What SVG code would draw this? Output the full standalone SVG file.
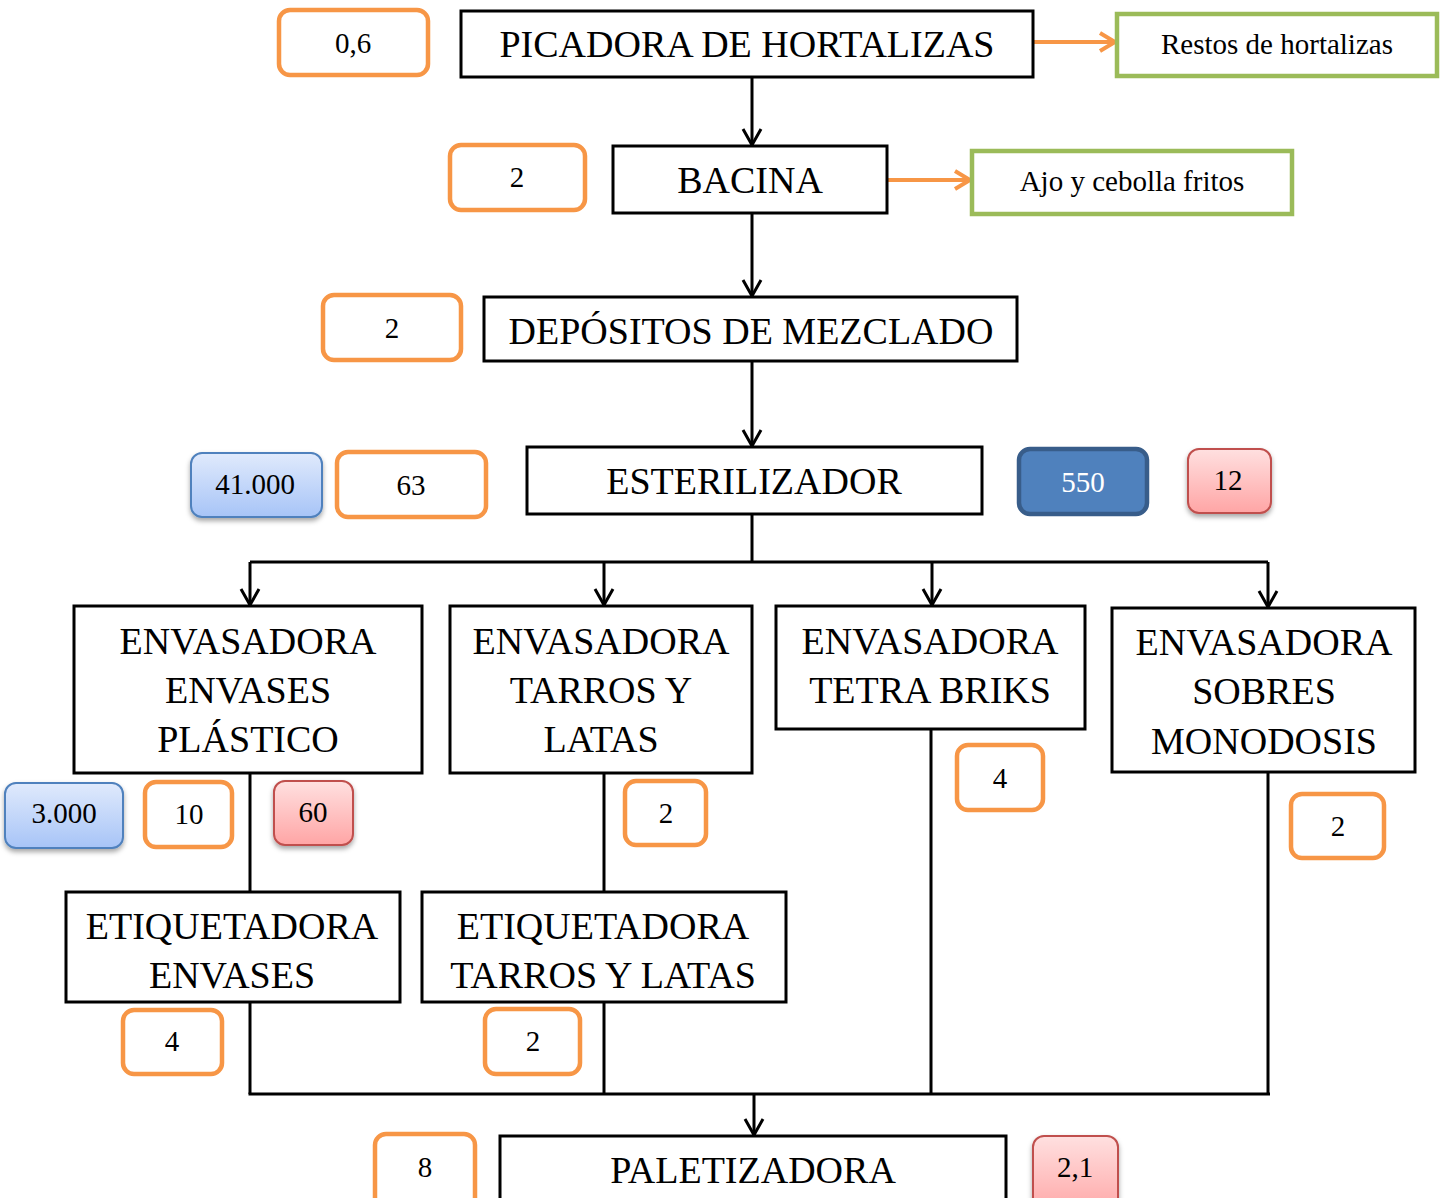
<svg xmlns="http://www.w3.org/2000/svg" width="1440" height="1198" viewBox="0 0 1440 1198">
  <style>
    text { font-family: "Liberation Serif", "Times New Roman", serif; text-anchor: middle; fill: #000; }
    .main { font-size: 38px; }
    .num { font-size: 29px; }
    .proc { fill: #fff; stroke: #000; stroke-width: 3; }
    .ora { fill: #fff; stroke: #F79646; stroke-width: 4.5; }
    .grn { fill: #fff; stroke: #9BBB59; stroke-width: 4.5; }
    .blu { fill: url(#gBlue); stroke: #4F81BD; stroke-width: 2; filter: url(#shadow); }
    .red { fill: url(#gRed); stroke: #C0504D; stroke-width: 2; filter: url(#shadow); }
    .dark { fill: #4F81BD; stroke: #385D8A; stroke-width: 4.5; }
    .wire { fill: none; stroke: #000; stroke-width: 3; }
    .flow { fill: none; stroke: #000; stroke-width: 3; marker-end: url(#arrowK); }
    .side { fill: none; stroke: #F79646; stroke-width: 4; marker-end: url(#arrowO); }
  </style>
  <defs>
    <linearGradient id="gBlue" x1="0" y1="0" x2="0" y2="1">
      <stop offset="0" stop-color="#E0EAFC"/>
      <stop offset="1" stop-color="#A7C4F7"/>
    </linearGradient>
    <linearGradient id="gRed" x1="0" y1="0" x2="0" y2="1">
      <stop offset="0" stop-color="#FFE0E0"/>
      <stop offset="1" stop-color="#FFA5A5"/>
    </linearGradient>
    <filter id="shadow" x="-20%" y="-20%" width="140%" height="150%">
      <feDropShadow dx="0" dy="3" stdDeviation="2.5" flood-color="#000" flood-opacity="0.35"/>
    </filter>
    <marker id="arrowK" viewBox="0 0 22 22" refX="20" refY="11" markerWidth="22" markerHeight="22" markerUnits="userSpaceOnUse" orient="auto">
      <path d="M4 2 L20 11 L4 20" fill="none" stroke="#000" stroke-width="3"/>
    </marker>
    <marker id="arrowO" viewBox="0 0 24 24" refX="21" refY="12" markerWidth="24" markerHeight="24" markerUnits="userSpaceOnUse" orient="auto">
      <path d="M6 3 L21 12 L6 21" fill="none" stroke="#F79646" stroke-width="4"/>
    </marker>
  </defs>

  <!-- connectors -->
  <g id="connectors">
    <line class="flow" x1="752" y1="77" x2="752" y2="145"/>
    <line class="flow" x1="752" y1="213" x2="752" y2="296"/>
    <line class="flow" x1="752" y1="361" x2="752" y2="446"/>
    <polyline class="wire" points="752,514 752,562"/>
    <line class="wire" x1="250" y1="562" x2="1268" y2="562"/>
    <line class="flow" x1="250" y1="562" x2="250" y2="605"/>
    <line class="flow" x1="604" y1="562" x2="604" y2="605"/>
    <line class="flow" x1="932" y1="562" x2="932" y2="605"/>
    <line class="flow" x1="1268" y1="562" x2="1268" y2="607"/>
    <line class="wire" x1="250" y1="773" x2="250" y2="892"/>
    <line class="wire" x1="604" y1="773" x2="604" y2="892"/>
    <line class="wire" x1="250" y1="1002" x2="250" y2="1094"/>
    <line class="wire" x1="604" y1="1002" x2="604" y2="1094"/>
    <line class="wire" x1="931" y1="729" x2="931" y2="1094"/>
    <line class="wire" x1="1268" y1="772" x2="1268" y2="1094"/>
    <line class="wire" x1="248.5" y1="1094" x2="1270" y2="1094"/>
    <line class="flow" x1="754" y1="1094" x2="754" y2="1135"/>
    <line class="side" x1="1033" y1="42" x2="1115" y2="42"/>
    <line class="side" x1="887" y1="180" x2="970" y2="180"/>
  </g>

  <!-- process steps -->
  <g id="picadora">
    <rect class="proc" x="461" y="11" width="572" height="66"/>
    <text class="main" x="747" y="57">PICADORA DE HORTALIZAS</text>
  </g>
  <g id="bacina">
    <rect class="proc" x="613" y="146" width="274" height="67"/>
    <text class="main" x="750" y="193">BACINA</text>
  </g>
  <g id="depositos">
    <rect class="proc" x="484" y="297" width="533" height="64"/>
    <text class="main" x="751" y="344">DEPÓSITOS DE MEZCLADO</text>
  </g>
  <g id="esterilizador">
    <rect class="proc" x="527" y="447" width="455" height="67"/>
    <text class="main" x="754" y="494">ESTERILIZADOR</text>
  </g>
  <g id="env-plastico">
    <rect class="proc" x="74" y="606" width="348" height="167"/>
    <text class="main" x="248" y="654">ENVASADORA</text>
    <text class="main" x="248" y="703">ENVASES</text>
    <text class="main" x="248" y="752">PLÁSTICO</text>
  </g>
  <g id="env-tarros">
    <rect class="proc" x="450" y="606" width="302" height="167"/>
    <text class="main" x="601" y="654">ENVASADORA</text>
    <text class="main" x="601" y="703">TARROS Y</text>
    <text class="main" x="601" y="752">LATAS</text>
  </g>
  <g id="env-tetra">
    <rect class="proc" x="776" y="606" width="309" height="123"/>
    <text class="main" x="930" y="654">ENVASADORA</text>
    <text class="main" x="930" y="703">TETRA BRIKS</text>
  </g>
  <g id="env-sobres">
    <rect class="proc" x="1112" y="608" width="303" height="164"/>
    <text class="main" x="1264" y="655">ENVASADORA</text>
    <text class="main" x="1264" y="704">SOBRES</text>
    <text class="main" x="1264" y="754">MONODOSIS</text>
  </g>
  <g id="etiq-envases">
    <rect class="proc" x="66" y="892" width="334" height="110"/>
    <text class="main" x="232" y="939">ETIQUETADORA</text>
    <text class="main" x="232" y="988">ENVASES</text>
  </g>
  <g id="etiq-tarros">
    <rect class="proc" x="422" y="892" width="364" height="110"/>
    <text class="main" x="603" y="939">ETIQUETADORA</text>
    <text class="main" x="603" y="988">TARROS Y LATAS</text>
  </g>
  <g id="paletizadora">
    <rect class="proc" x="500" y="1136" width="506" height="80"/>
    <text class="main" x="753" y="1183">PALETIZADORA</text>
  </g>

  <!-- by-products -->
  <g id="restos">
    <rect class="grn" x="1117" y="14" width="320" height="62"/>
    <text class="num" x="1277" y="54">Restos de hortalizas</text>
  </g>
  <g id="ajo">
    <rect class="grn" x="972" y="151" width="320" height="63"/>
    <text class="num" x="1132" y="191">Ajo y cebolla fritos</text>
  </g>

  <!-- figures per step -->
  <g id="n-picadora"><rect class="ora" x="279" y="10" width="149" height="65" rx="11"/><text class="num" x="353" y="53">0,6</text></g>
  <g id="n-bacina"><rect class="ora" x="450" y="145" width="135" height="65" rx="11"/><text class="num" x="517" y="187">2</text></g>
  <g id="n-depositos"><rect class="ora" x="323" y="295" width="138" height="65" rx="11"/><text class="num" x="392" y="338">2</text></g>
  <g id="n-ester-blue"><rect class="blu" x="191" y="453" width="131" height="64" rx="11"/><text class="num" x="255" y="494">41.000</text></g>
  <g id="n-ester-orange"><rect class="ora" x="337" y="452" width="149" height="65" rx="11"/><text class="num" x="411" y="495">63</text></g>
  <g id="n-ester-dark"><rect class="dark" x="1019" y="449" width="128" height="65" rx="11"/><text class="num" x="1083" y="492" style="fill:#fff">550</text></g>
  <g id="n-ester-red"><rect class="red" x="1188" y="449" width="83" height="64" rx="11"/><text class="num" x="1228" y="490">12</text></g>
  <g id="n-plast-blue"><rect class="blu" x="5" y="783" width="118" height="65" rx="11"/><text class="num" x="64" y="823">3.000</text></g>
  <g id="n-plast-orange"><rect class="ora" x="145" y="782" width="87" height="65" rx="11"/><text class="num" x="189" y="824">10</text></g>
  <g id="n-plast-red"><rect class="red" x="274" y="781" width="79" height="64" rx="11"/><text class="num" x="313" y="822">60</text></g>
  <g id="n-tarros"><rect class="ora" x="625" y="781" width="81" height="64" rx="11"/><text class="num" x="666" y="823">2</text></g>
  <g id="n-tetra"><rect class="ora" x="957" y="745" width="86" height="65" rx="11"/><text class="num" x="1000" y="788">4</text></g>
  <g id="n-sobres"><rect class="ora" x="1291" y="794" width="93" height="64" rx="11"/><text class="num" x="1338" y="836">2</text></g>
  <g id="n-etiq-envases"><rect class="ora" x="123" y="1010" width="99" height="64" rx="11"/><text class="num" x="172" y="1051">4</text></g>
  <g id="n-etiq-tarros"><rect class="ora" x="485" y="1009" width="95" height="65" rx="11"/><text class="num" x="533" y="1051">2</text></g>
  <g id="n-pal-orange"><rect class="ora" x="375" y="1134" width="100" height="80" rx="11"/><text class="num" x="425" y="1177">8</text></g>
  <g id="n-pal-red"><rect class="red" x="1033" y="1136" width="85" height="80" rx="11"/><text class="num" x="1075" y="1177">2,1</text></g>
</svg>
